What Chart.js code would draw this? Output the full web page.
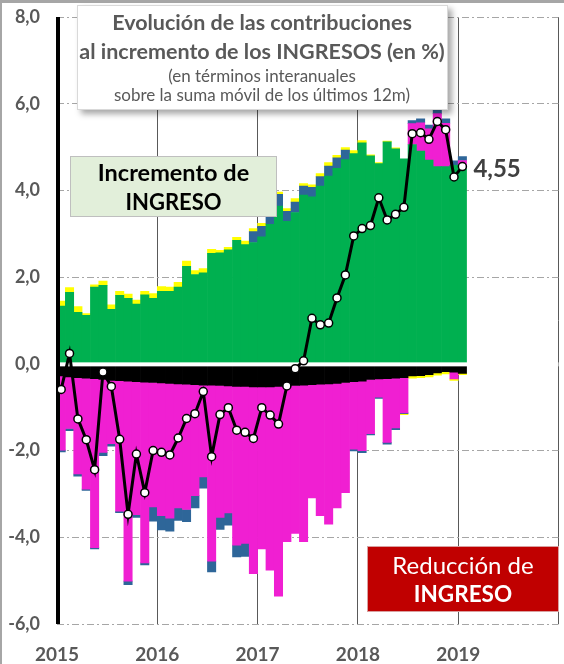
<!DOCTYPE html>
<html lang="es">
<head>
<meta charset="utf-8">
<title>Contribuciones al incremento de los ingresos</title>
<script src="https://cdn.jsdelivr.net/npm/chart.js@4.4.1/dist/chart.umd.min.js"></script>
<style>
  html, body { margin: 0; padding: 0; background: #fff; }
  #wrap { width: 564px; height: 664px; }
</style>
</head>
<body>
<div id="wrap"><canvas id="myChart" width="564" height="664"></canvas></div>
<script>
// Eje: meses de 2015 a 2019 (datos hasta enero 2019)
const years = [2015, 2016, 2017, 2018, 2019];
const months = [];
years.forEach(y => {
    for (let m = 1; m <= 12; m++) months.push(y + '-' + String(m).padStart(2, '0'));
});

// Contribuciones (puntos porcentuales)
const verde = [1.33, 1.65, 1.19, 1.12, 1.77, 1.81, 1.26, 1.58, 1.51, 1.38, 1.59, 1.51,
    1.67, 1.67, 1.77, 2.25, 2.06, 2.10, 2.55, 2.56, 2.63, 2.85, 2.75, 2.80,
    2.93, 3.22, 3.64, 3.29, 3.49, 3.89, 3.85, 4.10, 4.33, 4.51, 4.71, 4.85,
    5.10, 4.80, 4.62, 5.12, 4.96, 4.73, 5.06, 4.91, 4.70, 4.55, 4.55, 4.58,
    4.50];
const negro = [-0.28, -0.30, -0.32, -0.33, -0.34, -0.36, -0.38, -0.39, -0.40, -0.41, -0.42, -0.43,
    -0.44, -0.45, -0.46, -0.47, -0.48, -0.49, -0.49, -0.50, -0.51, -0.52, -0.52, -0.53,
    -0.53, -0.53, -0.52, -0.51, -0.50, -0.49, -0.48, -0.47, -0.46, -0.45, -0.43, -0.41,
    -0.40, -0.36, -0.35, -0.34, -0.33, -0.32, -0.28, -0.27, -0.25, -0.21, -0.18, -0.19,
    -0.22];
const magenta = [-1.71, -1.19, -2.22, -2.56, -3.90, -1.68, -1.46, -3.01, -4.61, -3.07, -4.17, -2.87,
    -3.06, -3.11, -2.86, -2.89, -2.56, -2.12, -4.06, -3.04, -2.93, -3.66, -3.62, -4.31,
    -3.74, -4.23, -4.84, -3.59, -3.41, -3.61, -2.61, -3.03, -3.24, -2.87, -2.54, -1.56,
    -1.60, -1.25, -0.42, -1.47, -1.15, -0.81, 0.48, 0.65, 0.72, 1.22, 1.00, -0.16,
    0.19];
const azul = [-0.04, -0.05, -0.05, -0.03, -0.03, -0.08, -0.06, -0.03, -0.08, -0.06, -0.05, -0.33,
    -0.33, -0.30, -0.29, -0.28, -0.28, -0.26, -0.25, -0.28, -0.28, -0.27, -0.30, 0.25,
    0.24, 0.22, 0.27, 0.23, 0.24, 0.21, 0.22, 0.22, 0.23, 0.24, 0.22, -0.04,
    -0.05, -0.03, -0.03, -0.04, -0.04, -0.02, 0.07, 0.09, 0.09, 0.10, 0.10, 0.10,
    0.09];
const amarillo = [0.12, 0.11, 0.13, 0.04, 0.05, 0.10, 0.10, 0.09, 0.10, 0.09, 0.08, 0.11,
    0.11, 0.10, 0.11, 0.12, 0.09, 0.10, 0.09, 0.06, 0.06, 0.07, 0.08, 0.07,
    0.07, 0.06, 0.05, 0.06, 0.08, 0.06, 0.06, 0.07, 0.08, 0.06, 0.06, 0.07,
    0.05, 0.02, 0.02, 0.02, 0.02, -0.02, -0.05, -0.05, -0.05, -0.05, -0.05, -0.03,
    -0.03];
// Variacion total del ingreso (linea)
const total = [-0.59, 0.24, -1.27, -1.75, -2.44, -0.19, -0.52, -1.74, -3.47, -2.08, -2.97, -2.00,
    -2.04, -2.10, -1.71, -1.26, -1.15, -0.64, -2.14, -1.17, -1.01, -1.53, -1.58, -1.72,
    -1.01, -1.18, -1.39, -0.51, -0.11, 0.07, 1.05, 0.90, 0.94, 1.52, 2.05, 2.95,
    3.12, 3.19, 3.83, 3.32, 3.45, 3.61, 5.31, 5.33, 5.18, 5.59, 5.40, 4.31,
    4.55];

const yTicks = [-6, -4, -2, 0, 2, 4, 6, 8];

const FONT = 'Lato, "Open Sans", sans-serif';
const GRIS = '#595959';

function coma(v, d) {
    return v.toFixed(d).replace('.', ',');
}

function barra(label, data, color) {
    return {
        type: 'bar', label: label, data: data, backgroundColor: color,
        borderWidth: 0, stack: 'ingreso', order: 1,
        barPercentage: 1, categoryPercentage: 1
    };
}

function sinPadding(s) {
    s.paddingLeft = 0;
    s.paddingRight = 0;
    s.paddingTop = 0;
    s.paddingBottom = 0;
}

// linea blanca en el cero + eje vertical negro (por encima de las barras)
const ejes = {
    id: 'ejes',
    beforeDatasetDraw(chart, args) {
        if (args.meta.type !== 'line') return;
        const {ctx, chartArea: a, scales: {y}} = chart;
        const y0 = y.getPixelForValue(0);
        ctx.save();
        ctx.fillStyle = '#ffffff';
        ctx.fillRect(a.left, y0 - 1.5, a.right - a.left, 4);
        ctx.fillStyle = '#000000';
        ctx.fillRect(a.left - 1, a.top, 4, a.bottom - a.top);
        ctx.restore();
    }
};

function caja(ctx, x, y, w, h, fill, stroke, sombra) {
    ctx.save();
    if (sombra) {
        ctx.shadowColor = 'rgba(0,0,0,0.35)';
        ctx.shadowBlur = 6;
        ctx.shadowOffsetX = 4;
        ctx.shadowOffsetY = 4;
    }
    ctx.fillStyle = fill;
    ctx.fillRect(x, y, w, h);
    ctx.restore();
    ctx.save();
    ctx.strokeStyle = stroke;
    ctx.lineWidth = 1;
    ctx.strokeRect(x + 0.5, y + 0.5, w - 1, h - 1);
    ctx.restore();
}

function texto(ctx, t, x, y, font, color, align) {
    ctx.font = font;
    ctx.fillStyle = color;
    ctx.textAlign = align || 'center';
    ctx.textBaseline = 'middle';
    ctx.fillText(t, x, y);
}

const rotulos = {
    id: 'rotulos',
    afterDraw(chart) {
        const {ctx, scales: {x, y}} = chart;
        ctx.save();
        // marco
        ctx.fillStyle = '#a6a6a6';
        ctx.fillRect(0, 0, 564, 3);
        ctx.fillRect(0, 0, 2, 664);

        // titulo
        caja(ctx, 77, 5, 371, 105, '#ffffff', '#d9d9d9', true);
        texto(ctx, 'Evolución de las contribuciones', 262, 23, 'bold 21.5px ' + FONT, GRIS);
        texto(ctx, 'al incremento de los INGRESOS (en %)', 262, 52, 'bold 21.5px ' + FONT, GRIS);
        texto(ctx, '(en términos interanuales', 262, 77, '17px ' + FONT, GRIS);
        texto(ctx, 'sobre la suma móvil de los últimos 12m)', 262, 96, '17px ' + FONT, GRIS);

        // incremento
        caja(ctx, 70, 156, 207, 61, '#e2efda', '#bfbfbf', false);
        texto(ctx, 'Incremento de', 173.5, 173, 'bold 23.5px ' + FONT, '#000000');
        texto(ctx, 'INGRESO', 173.5, 203, 'bold 22px ' + FONT, '#000000');

        // reduccion
        caja(ctx, 367, 546, 192, 66, '#c00000', '#d9a0a0', false);
        texto(ctx, 'Reducción de', 463, 566, '24px ' + FONT, '#ffffff');
        texto(ctx, 'INGRESO', 463, 595, 'bold 22.5px ' + FONT, '#ffffff');

        // ultimo valor
        const n = total.length - 1;
        const px = x.getPixelForValue(n);
        const py = y.getPixelForValue(total[n]);
        texto(ctx, coma(total[n], 2), px + 11, py + 3, 'bold 24px ' + FONT, '#404040', 'left');
        ctx.restore();
    }
};

const ctx = document.getElementById('myChart').getContext('2d');
const myChart = new Chart(ctx, {
    data: {
        labels: months,
        datasets: [
            barra('Verde', verde, '#00b050'),
            barra('Negro', negro, '#000000'),
            barra('Magenta', magenta, '#f01fd2'),
            barra('Azul', azul, '#2e6699'),
            barra('Amarillo', amarillo, '#ffff00'),
            {
                type: 'line', label: 'Total', data: total, stack: 'linea', order: 0,
                borderColor: '#000000', borderWidth: 3, tension: 0,
                pointRadius: 4, pointBackgroundColor: '#ffffff',
                pointBorderColor: '#000000', pointBorderWidth: 1.5
            }
        ]
    },
    options: {
        responsive: false,
        animation: false,
        layout: { padding: { top: 17, right: 2, left: 0, bottom: 0 } },
        plugins: {
            legend: { display: false },
            tooltip: { enabled: false },
            title: { display: false }
        },
        scales: {
            x: {
                type: 'category', display: false, offset: true, stacked: true,
                grid: { display: false }
            },
            x2: {
                type: 'linear', position: 'bottom', min: 0, max: 60,
                afterFit: s => { s.height = 40; sinPadding(s); },
                afterBuildTicks: s => {
                    s.ticks = [0, 12, 24, 36, 48, 60].map(v => ({ value: v }));
                },
                ticks: {
                    padding: 19, color: GRIS, maxRotation: 0, autoSkip: false,
                    font: { family: FONT, size: 19, weight: 'bold' },
                    callback: v => v < 60 ? String(years[0] + v / 12) : ''
                },
                grid: {
                    drawTicks: false,
                    color: c => c.tick && c.tick.value === 0 ? 'rgba(0,0,0,0)' : '#595959',
                    lineWidth: 1
                },
                border: { display: false }
            },
            y: {
                stacked: true, min: -6, max: 8,
                afterFit: s => { s.width = 57; sinPadding(s); },
                afterBuildTicks: s => { s.ticks = yTicks.map(v => ({ value: v })); },
                ticks: {
                    padding: 17, color: GRIS,
                    font: { family: FONT, size: 18, weight: 'bold' },
                    callback: v => coma(v, 1)
                },
                grid: {
                    drawTicks: false,
                    color: c => c.tick && c.tick.value === 0 ? 'rgba(0,0,0,0)' : '#a6a6a6',
                    lineWidth: 1
                },
                border: { display: false, dash: [7, 3, 2, 3] }
            }
        }
    },
    plugins: [ejes, rotulos]
});
</script>
</body>
</html>
